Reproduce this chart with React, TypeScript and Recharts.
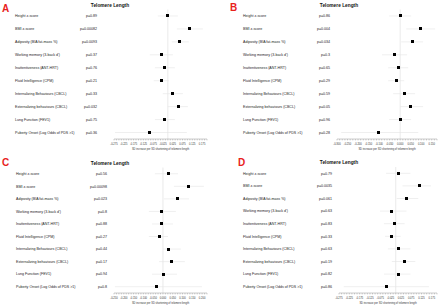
import { ScatterChart, Scatter, XAxis, YAxis, ErrorBar, ReferenceLine } from "recharts";

const categories = [
  "Height z-score",
  "BMI z-score",
  "Adiposity (BIA fat-mass %)",
  "Working memory (3-back d')",
  "Inattentiveness (ANT-HRT)",
  "Fluid Intelligence (CPM)",
  "Internalizing Behaviours (CBCL)",
  "Externalizing behaviours (CBCL)",
  "Lung Function (FEV1)",
  "Puberty Onset (Log Odds of PDS >1)",
];

const estA = [-0.004, 0.112, 0.061, -0.031, -0.015, -0.031, 0.026, 0.056, -0.015, -0.092];
const lowA = [-0.051, 0.046, 0.02, -0.092, -0.066, -0.072, -0.026, 0.0, -0.066, -0.27];
const highA = [0.051, 0.179, 0.107, 0.026, 0.036, 0.005, 0.077, 0.102, 0.036, 0.097];
const pA = ["p=0.89", "p=0.00082", "p=0.0093", "p=0.37", "p=0.76", "p=0.21", "p=0.33", "p=0.032", "p=0.75", "p=0.36"];

const estB = [0.0, 0.095, 0.057, -0.029, -0.01, -0.019, 0.019, 0.048, 0.0, -0.105];
const lowB = [-0.052, 0.029, 0.005, -0.086, -0.057, -0.057, -0.033, 0.0, -0.052, -0.28];
const highB = [0.052, 0.166, 0.109, 0.033, 0.038, 0.019, 0.071, 0.109, 0.052, 0.086];
const pB = ["p=0.86", "p=0.004", "p=0.034", "p=0.3", "p=0.65", "p=0.29", "p=0.59", "p=0.05", "p=0.96", "p=0.28"];

const estC = [0.026, 0.133, 0.072, -0.005, -0.005, -0.02, 0.026, 0.046, 0.005, -0.031];
const lowC = [-0.041, 0.056, 0.005, -0.072, -0.056, -0.072, 0.0, -0.02, -0.056, -0.245];
const highC = [0.077, 0.209, 0.133, 0.066, 0.051, 0.026, 0.092, 0.112, 0.072, 0.199];
const pC = ["p=0.56", "p=0.00098", "p=0.023", "p=0.8", "p=0.88", "p=0.27", "p=0.44", "p=0.17", "p=0.94", "p=0.8"];

const estD = [0.014, 0.114, 0.052, -0.019, -0.005, -0.019, 0.014, 0.043, 0.014, -0.047];
const lowD = [-0.047, 0.033, 0.005, -0.076, -0.057, -0.052, -0.038, -0.019, -0.057, -0.252];
const highD = [0.071, 0.171, 0.109, 0.052, 0.043, 0.024, 0.071, 0.095, 0.071, 0.161];
const pD = ["p=0.79", "p=0.0035", "p=0.061", "p=0.63", "p=0.83", "p=0.33", "p=0.63", "p=0.19", "p=0.82", "p=0.86"];

// major x-axis ticks (every other one gets a label); minor ticks sit halfway between
const ticksA = [-0.275, -0.25, -0.225, -0.2, -0.175, -0.15, -0.125, -0.1, -0.075, -0.05, -0.025, 0, 0.025, 0.05, 0.075, 0.1, 0.125, 0.15, 0.175, 0.2];
const ticksB = [-0.3, -0.275, -0.25, -0.225, -0.2, -0.175, -0.15, -0.125, -0.1, -0.075, -0.05, -0.025, 0, 0.025, 0.05, 0.075, 0.1, 0.125, 0.15, 0.175];
const ticksC = [-0.25, -0.225, -0.2, -0.175, -0.15, -0.125, -0.1, -0.075, -0.05, -0.025, 0, 0.025, 0.05, 0.075, 0.1, 0.125, 0.15, 0.175, 0.2, 0.225];

const rows = [1, 2, 3, 4, 5, 6, 7, 8, 9, 10];

const FONT = "'Liberation Sans', Arial, sans-serif";
const CI_COLOR = "#e4e4e4";

type PanelProps = {
  letter: string;
  est: number[];
  low: number[];
  high: number[];
  pvals: string[];
  ticks: number[];
  left: number;
  top: number;
  plotLeft: number;
  plotRight: number;
  marginTop: number;
  labelX: number;
  pX: number;
  letterX: number;
  letterY: number;
  titleX: number;
  titleY: number;
};

function ForestPanel(props: PanelProps) {
  const { est, low, high, pvals, ticks } = props;
  const data = rows.map((r, i) => ({
    row: r,
    x: est[i],
    err: [est[i] - low[i], high[i] - est[i]],
  }));
  const allTicks = ticks.flatMap((t, i) => (i < ticks.length - 1 ? [t, (t + ticks[i + 1]) / 2] : [t]));

  const renderYTick = (t: any) => {
    const i = t.payload.value - 1;
    return (
      <g>
        <text x={props.labelX} y={t.y + 1.2} fontSize={3.6} fill="#222" textAnchor="start" fontFamily={FONT}>
          {categories[i]}
        </text>
        <text x={props.pX} y={t.y + 1.2} fontSize={3.6} fill="#222" textAnchor="end" fontFamily={FONT}>
          {pvals[i]}
        </text>
      </g>
    );
  };

  const renderXTick = (t: any) => {
    const idx = ticks.indexOf(t.payload.value);
    if (idx < 0 || idx % 2 !== 0) return <g />;
    return (
      <text x={t.x} y={t.y + 2.6} fontSize={2.6} fill="#333" textAnchor="middle" fontFamily={FONT}>
        {Number(t.payload.value).toFixed(3)}
      </text>
    );
  };

  return (
    <div style={{ position: "absolute", left: props.left, top: props.top, width: 220, height: 154 }}>
      <ScatterChart
        width={220}
        height={154}
        margin={{ top: props.marginTop, right: 220 - props.plotRight, bottom: 3, left: 0 }}
      >
        <XAxis
          type="number"
          dataKey="x"
          domain={[ticks[0], ticks[ticks.length - 1]]}
          ticks={allTicks}
          allowDataOverflow
          interval={0}
          height={12}
          tick={renderXTick}
          tickSize={1.4}
          stroke="#999"
          strokeWidth={0.5}
          label={{
            value: "SD increase per SD shortening of telomere length",
            position: "insideBottom",
            offset: 1,
            fontSize: 2.6,
            fill: "#333",
            fontFamily: FONT,
          }}
        />
        <YAxis
          type="number"
          dataKey="row"
          domain={[0.5, 10.5]}
          reversed
          ticks={rows}
          interval={0}
          width={props.plotLeft}
          axisLine={false}
          tickLine={false}
          tick={renderYTick}
        />
        <ReferenceLine x={0} stroke="#dcdcdc" strokeWidth={0.6} />
        <Scatter
          data={data}
          isAnimationActive={false}
          shape={(s: any) => (
            <rect x={Math.round(s.cx - 1.5)} y={Math.round(s.cy - 1.5)} width={3} height={3} fill="#000" />
          )}
        >
          <ErrorBar dataKey="err" direction="x" width={0} stroke={CI_COLOR} strokeWidth={0.6} />
        </Scatter>
      </ScatterChart>
      <svg
        width={220}
        height={154}
        style={{ position: "absolute", left: 0, top: 0, pointerEvents: "none" }}
      >
        <text x={props.letterX} y={props.letterY} fontSize={10} fontWeight="bold" fill="#e8211c" fontFamily={FONT}>
          {props.letter}
        </text>
        <text x={props.titleX} y={props.titleY} fontSize={4.8} fontWeight="bold" fill="#111" textAnchor="middle" fontFamily={FONT}>
          Telomere Length
        </text>
      </svg>
    </div>
  );
}

export default function App() {
  return (
    <div style={{ position: "absolute", left: 0, top: 0, width: 440, height: 308, background: "#fff" }}>
      <ForestPanel
        letter="A" est={estA} low={lowA} high={highA} pvals={pA} ticks={ticksA}
        left={0} top={0} plotLeft={114} plotRight={207} marginTop={9.5}
        labelX={15} pX={97} letterX={2} letterY={12} titleX={110} titleY={7}
      />
      <ForestPanel
        letter="B" est={estB} low={lowB} high={highB} pvals={pB} ticks={ticksB}
        left={220} top={0} plotLeft={117} plotRight={217} marginTop={9.5}
        labelX={23} pX={110} letterX={10} letterY={11} titleX={119} titleY={7}
      />
      <ForestPanel
        letter="C" est={estC} low={lowC} high={highC} pvals={pC} ticks={ticksC}
        left={0} top={154} plotLeft={114} plotRight={207} marginTop={13.5}
        labelX={16} pX={107} letterX={2} letterY={12} titleX={110} titleY={11}
      />
      <ForestPanel
        letter="D" est={estD} low={lowD} high={highD} pvals={pD} ticks={ticksA}
        left={220} top={154} plotLeft={119} plotRight={217} marginTop={13}
        labelX={23} pX={112} letterX={18} letterY={12} titleX={119} titleY={10}
      />
    </div>
  );
}
